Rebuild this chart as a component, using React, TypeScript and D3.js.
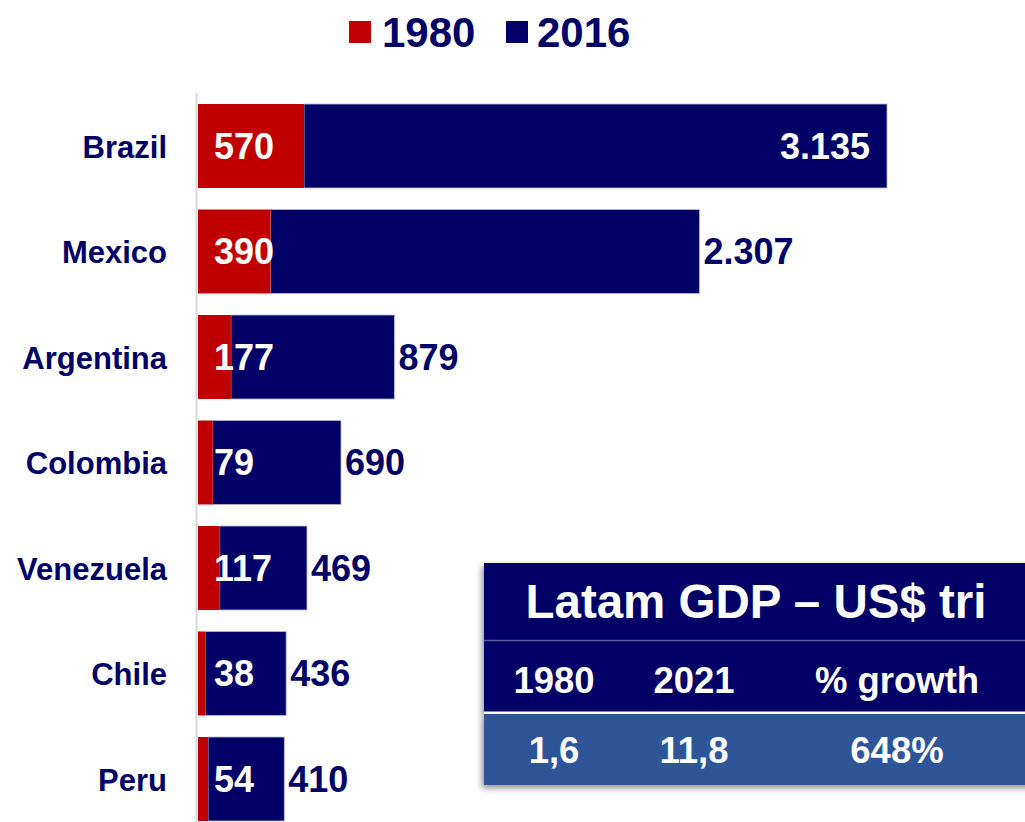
import React from "react";
import * as d3 from "d3";

const countries = ["Brazil", "Mexico", "Argentina", "Colombia", "Venezuela", "Chile", "Peru"];
const gdp1980 = [570, 390, 177, 79, 117, 38, 54];
const gdp2016 = [3135, 2307, 879, 690, 469, 436, 410];
const seriesNames = ["1980", "2016"];
const tableHeader = ["1980", "2021", "% growth"];
const tableValues = ["1,6", "11,8", "648%"];
const tableTitle = "Latam GDP \u2013 US$ tri";

const fmt = (v: number) => d3.format(",")(v).replace(/,/g, ".");

const RED = "#C00000";
const NAVY = "#000066";
const BLUE = "#2F5597";
const FONT = "'Liberation Sans', Arial, sans-serif";

export default function App() {
  const W = 1025, H = 822;
  const x = d3.scaleLinear().domain([0, 3705]).range([198, 887]);
  const y = d3.scaleBand<string>().domain(countries).range([93.25, 831.75]).paddingInner(0.204).paddingOuter(0.102);
  const bw = y.bandwidth();
  const colX = [554, 694, 897];

  return (
    <svg width={W} height={H} style={{ position: "absolute", left: 0, top: 0 }} fontFamily={FONT}>
      <defs>
        <filter id="sh" x="-10%" y="-10%" width="130%" height="130%">
          <feDropShadow dx="-2" dy="3" stdDeviation="3" floodColor="#000" floodOpacity="0.45" />
        </filter>
      </defs>
      <rect width={W} height={H} fill="#fff" />

      {/* legend */}
      <g fontWeight="bold" fontSize={42} fill={NAVY}>
        <rect x={349} y={21} width={22} height={22} fill={RED} />
        <text x={382} y={47}>{seriesNames[0]}</text>
        <rect x={506} y={21} width={22} height={22} fill={NAVY} />
        <text x={537} y={47}>{seriesNames[1]}</text>
      </g>

      {/* axis line */}
      <line x1={196.5} x2={196.5} y1={93} y2={H} stroke="#d9d9d9" strokeWidth={2} />

      {countries.map((c, i) => {
        const y0 = y(c)!;
        const cy = y0 + bw / 2;
        const x0 = x(0), x1 = x(gdp1980[i]), x2 = x(gdp1980[i] + gdp2016[i]);
        const inside = x2 - x1 > 500;
        return (
          <g key={c}>
            <text x={167} y={cy + 11.5} textAnchor="end" fontWeight="bold" fontSize={31} fill={NAVY}>{c}</text>
            <rect x={x1} y={y0} width={x2 - x1} height={bw} fill={NAVY} stroke="#b8b8d8" strokeWidth={0.8} />
            <rect x={x0} y={y0} width={x1 - x0} height={bw} fill={RED} />
            <text x={214} y={cy + 12.5} fontWeight="bold" fontSize={36} fill="#fff">{fmt(gdp1980[i])}</text>
            <text x={inside ? x2 - 17 : x2 + 4} y={cy + 12.5} textAnchor={inside ? "end" : "start"}
              fontWeight="bold" fontSize={36} fill={inside ? "#fff" : NAVY}>{fmt(gdp2016[i])}</text>
          </g>
        );
      })}

      {/* table */}
      <g filter="url(#sh)">
        <rect x={484} y={563} width={560} height={149} fill={NAVY} />
        <rect x={484} y={714} width={560} height={71} fill={BLUE} />
      </g>
      <line x1={484} x2={W} y1={640.5} y2={640.5} stroke="#5a5a9a" strokeWidth={1.5} />
      <rect x={484} y={711.5} width={560} height={2.5} fill="#fff" />
      <text x={756} y={618} textAnchor="middle" fontWeight="bold" fontSize={47.5} fill="#fff">{tableTitle}</text>
      {colX.map((cx, j) => (
        <text key={"h" + j} x={cx} y={693} textAnchor="middle" fontWeight="bold" fontSize={36.5} fill="#fff">{tableHeader[j]}</text>
      ))}
      {colX.map((cx, j) => (
        <text key={"v" + j} x={cx} y={763} textAnchor="middle" fontWeight="bold" fontSize={36.5} fill="#fff">{tableValues[j]}</text>
      ))}
    </svg>
  );
}
